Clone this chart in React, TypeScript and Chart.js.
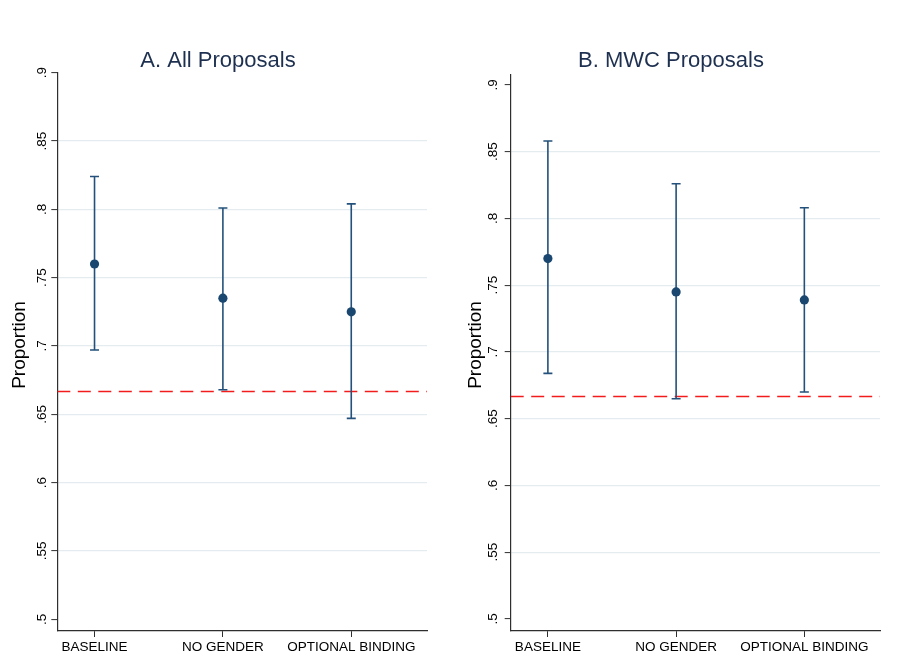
import React, { useEffect, useRef } from 'react';
import { Chart, registerables } from 'chart.js';

Chart.register(...registerables);

// ---------- data ----------
const categories = ['BASELINE', 'NO GENDER', 'OPTIONAL BINDING'];
const categoryPositions = [0, 1, 2];
const yTickValues = [0.5, 0.55, 0.6, 0.65, 0.7, 0.75, 0.8, 0.85, 0.9];
const yTickLabels = ['.5', '.55', '.6', '.65', '.7', '.75', '.8', '.85', '.9'];
const refLine = [0.6667];

const allMean = [0.760, 0.735, 0.725];
const allLower = [0.697, 0.668, 0.647];
const allUpper = [0.824, 0.801, 0.804];

const mwcMean = [0.770, 0.745, 0.739];
const mwcLower = [0.684, 0.665, 0.670];
const mwcUpper = [0.858, 0.826, 0.808];

const panelTitles = ['A. All Proposals', 'B. MWC Proposals'];
const yAxisTitle = 'Proportion';

// ---------- styles / layout ----------
const FONT = '"Liberation Sans", Arial, Helvetica, sans-serif';
const NAVY = '#1a476f';
const BAR = '#24517b';
const GRID = '#e4ecef';
const AXIS = '#2e2e2e';
const RED = '#f21c1c';
const X_MIN = -0.29;
const X_MAX = 2.59;

type PanelLayout = {
  left: number;
  width: number;
  padTop: number;
  padRight: number;
  yWidth: number;
  yMin: number;
  yMax: number;
  titleX: number;
  tickGap: number;
  yTitleX: number;
  yTitleY: number;
};

const layouts: PanelLayout[] = [
  { left: 0, width: 450, padTop: 72.7, padRight: 23, yWidth: 57.3, yMin: 0.4914, yMax: 0.9, titleX: 218, tickGap: 11.3, yTitleX: 25, yTitleY: 345 },
  { left: 450, width: 451, padTop: 74.3, padRight: 21, yWidth: 60.7, yMin: 0.491, yMax: 0.908, titleX: 221, tickGap: 13.4, yTitleX: 31, yTitleY: 345 },
];

function makeChart(
  canvas: HTMLCanvasElement,
  L: PanelLayout,
  title: string,
  mean: number[],
  lower: number[],
  upper: number[]
) {
  const near = (a: number, b: number) => Math.abs(a - b) < 1e-6;

  const errorBars = {
    id: 'errorBars' + title,
    afterDatasetDraw(chart: any, args: any) {
      if (args.index !== 1) return;
      const { ctx, scales } = chart;
      const xs = scales.x;
      const ys = scales.y;
      ctx.save();
      ctx.strokeStyle = BAR;
      ctx.lineWidth = 1.6;
      categoryPositions.forEach((c, i) => {
        const px = xs.getPixelForValue(c);
        const pLo = ys.getPixelForValue(lower[i]);
        const pHi = ys.getPixelForValue(upper[i]);
        ctx.beginPath();
        ctx.moveTo(px, pLo);
        ctx.lineTo(px, pHi);
        ctx.moveTo(px - 4.5, pLo);
        ctx.lineTo(px + 4.5, pLo);
        ctx.moveTo(px - 4.5, pHi);
        ctx.lineTo(px + 4.5, pHi);
        ctx.stroke();
      });
      ctx.restore();
    },
  };

  const texts = {
    id: 'texts' + title,
    afterDraw(chart: any) {
      const { ctx, chartArea, scales } = chart;
      const ys = scales.y;
      ctx.save();
      // panel title
      ctx.fillStyle = '#1e3050';
      ctx.font = `22px ${FONT}`;
      ctx.textAlign = 'center';
      ctx.textBaseline = 'alphabetic';
      ctx.fillText(title, L.titleX, 66.7);
      // y tick labels (rotated)
      ctx.fillStyle = '#000';
      ctx.font = `13.5px ${FONT}`;
      yTickValues.forEach((v, i) => {
        const py = ys.getPixelForValue(v);
        ctx.save();
        ctx.translate(chartArea.left - L.tickGap, py);
        ctx.rotate(-Math.PI / 2);
        ctx.textAlign = 'center';
        ctx.textBaseline = 'alphabetic';
        ctx.fillText(yTickLabels[i], 0, 0);
        ctx.restore();
      });
      // y axis title
      ctx.font = `19px ${FONT}`;
      ctx.save();
      ctx.translate(L.yTitleX, L.yTitleY);
      ctx.rotate(-Math.PI / 2);
      ctx.textAlign = 'center';
      ctx.textBaseline = 'alphabetic';
      ctx.fillText(yAxisTitle, 0, 0);
      ctx.restore();
      ctx.restore();
    },
  };

  return new Chart(canvas, {
    type: 'scatter',
    data: {
      datasets: [
        {
          type: 'scatter',
          data: categoryPositions.map((c, i) => ({ x: c, y: mean[i] })),
          backgroundColor: NAVY,
          borderColor: NAVY,
          borderWidth: 0,
          pointRadius: 4.6,
          pointHoverRadius: 4.6,
        },
        {
          type: 'line',
          data: [
            { x: X_MIN, y: refLine[0] },
            { x: X_MAX, y: refLine[0] },
          ],
          borderColor: RED,
          borderWidth: 1.5,
          borderDash: [13, 7.5],
          pointRadius: 0,
          fill: false,
        } as any,
      ],
    },
    options: {
      responsive: false,
      animation: false,
      events: [],
      layout: { padding: { top: L.padTop, right: L.padRight, bottom: 0, left: 0 } },
      plugins: {
        legend: { display: false },
        title: { display: false },
        tooltip: { enabled: false },
      },
      scales: {
        x: {
          type: 'linear',
          min: X_MIN,
          max: X_MAX,
          afterBuildTicks: (s: any) => {
            s.ticks = categoryPositions.map((v) => ({ value: v }));
          },
          afterFit: (s: any) => {
            s.height = 37;
          },
          grid: {
            display: true,
            drawOnChartArea: false,
            drawTicks: true,
            tickLength: 6,
            tickColor: AXIS,
            tickWidth: 1,
          },
          border: { display: true, color: AXIS, width: 1.2 },
          ticks: {
            autoSkip: false,
            maxRotation: 0,
            minRotation: 0,
            padding: 2,
            color: '#000',
            font: { family: FONT, size: 13.5 },
            callback: (v: any) => categories[categoryPositions.indexOf(Number(v))] ?? '',
          },
        },
        y: {
          type: 'linear',
          min: L.yMin,
          max: L.yMax,
          afterBuildTicks: (s: any) => {
            s.ticks = yTickValues.map((v) => ({ value: v }));
          },
          afterFit: (s: any) => {
            s.width = L.yWidth;
          },
          grid: {
            display: true,
            drawOnChartArea: true,
            drawTicks: true,
            tickLength: 6,
            tickColor: AXIS,
            tickWidth: 1,
            lineWidth: 1.2,
            color: (ctx: any) => {
              const v = ctx.tick ? ctx.tick.value : 0;
              return near(v, yTickValues[0]) || near(v, yTickValues[yTickValues.length - 1])
                ? 'rgba(0,0,0,0)'
                : GRID;
            },
          },
          border: { display: true, color: AXIS, width: 1.2 },
          ticks: { display: false },
        },
      },
    },
    plugins: [errorBars, texts],
  } as any);
}

export default function App() {
  const leftRef = useRef<HTMLCanvasElement>(null);
  const rightRef = useRef<HTMLCanvasElement>(null);

  useEffect(() => {
    const c1 = makeChart(leftRef.current!, layouts[0], panelTitles[0], allMean, allLower, allUpper);
    const c2 = makeChart(rightRef.current!, layouts[1], panelTitles[1], mwcMean, mwcLower, mwcUpper);
    return () => {
      c1.destroy();
      c2.destroy();
    };
  }, []);

  return (
    <div style={{ position: 'absolute', left: 0, top: 0, width: 901, height: 668, background: '#fff', overflow: 'hidden' }}>
      <canvas
        ref={leftRef}
        width={layouts[0].width}
        height={668}
        style={{ position: 'absolute', left: layouts[0].left, top: 0, width: layouts[0].width, height: 668 }}
      />
      <canvas
        ref={rightRef}
        width={layouts[1].width}
        height={668}
        style={{ position: 'absolute', left: layouts[1].left, top: 0, width: layouts[1].width, height: 668 }}
      />
    </div>
  );
}
